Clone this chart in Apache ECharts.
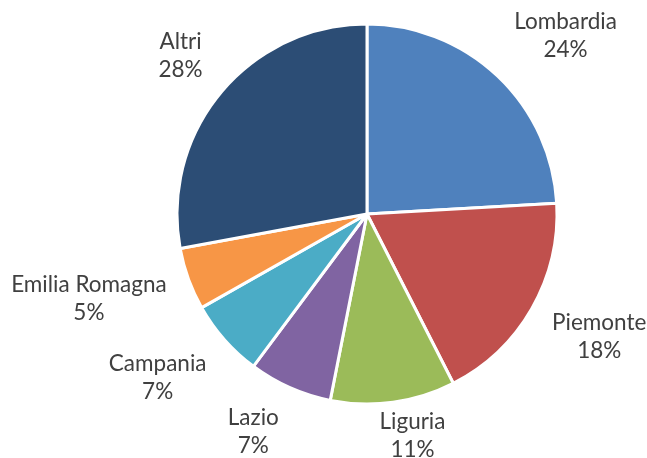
<!DOCTYPE html>
<html>
<head>
<meta charset="utf-8">
<script src="https://cdn.jsdelivr.net/npm/echarts@6/dist/echarts.min.js"></script>
<style>
  html, body { margin: 0; padding: 0; background: #ffffff; }
  #chart { width: 647px; height: 458px; }
</style>
</head>
<body>
<div id="chart"></div>
<script>
// Data
const regions = ['Lombardia', 'Piemonte', 'Liguria', 'Lazio', 'Campania', 'Emilia Romagna', 'Altri'];
const shares = [24.1, 18.4, 10.6, 7.1, 6.6, 5.3, 27.9];
const sliceColors = ['#4F81BD', '#C0504D', '#9BBB59', '#8064A2', '#4BACC6', '#F79646', '#2C4D75'];

const W = 647, H = 458;
const CX = 367, CY = 214, R = 190;
const LABEL_GAP = 20;

const chart = echarts.init(document.getElementById('chart'), null, { renderer: 'canvas' });

const pieData = regions.map((name, i) => ({
  name: name,
  value: shares[i],
  itemStyle: { color: sliceColors[i] }
}));

function clamp(v, lo, hi) { return Math.max(lo, Math.min(hi, v)); }

chart.setOption({
  animation: false,
  backgroundColor: '#ffffff',
  series: [{
    type: 'pie',
    center: [CX, CY],
    radius: [0, R],
    startAngle: 90,
    clockwise: true,
    avoidLabelOverlap: false,
    itemStyle: { borderColor: '#ffffff', borderWidth: 3 },
    label: {
      show: true,
      position: 'outside',
      distanceToLabelLine: 0,
      formatter: p => p.name + '\n' + Math.round(p.percent) + '%',
      fontFamily: 'Lato, "Open Sans", sans-serif',
      fontSize: 22.5,
      lineHeight: 28,
      color: '#404040'
    },
    labelLine: { show: false, length: 10, length2: 0 },
    emphasis: { disabled: true },
    labelLayout: function (p) {
      // Excel-like placement: the label box's near corner sits a fixed gap
      // outside the slice edge, along the slice's mid-angle direction.
      const r = p.labelRect;
      const w = r.width, h = r.height;
      const isRight = p.align ? p.align === 'left' : (r.x + w / 2 > CX);
      const ax = isRight ? r.x : r.x + w;
      const ay = r.y + h / 2;
      const dx = ax - CX, dy = ay - CY;
      const len = Math.hypot(dx, dy) || 1;
      const ux = dx / len, uy = dy / len;
      const a = w / 2 + 3, b = h / 2 - 2;
      const px = CX + (R + LABEL_GAP) * ux;
      const py = CY + (R + LABEL_GAP) * uy;
      const x = px + a * clamp(ux / 0.3, -1, 1);
      let y = py + b * clamp(uy / 0.7, -1, 1);
      y = clamp(y, b + 8, H - 22);
      return { x: x, y: y, align: 'center', verticalAlign: 'middle' };
    },
    data: pieData
  }]
});
</script>
</body>
</html>
